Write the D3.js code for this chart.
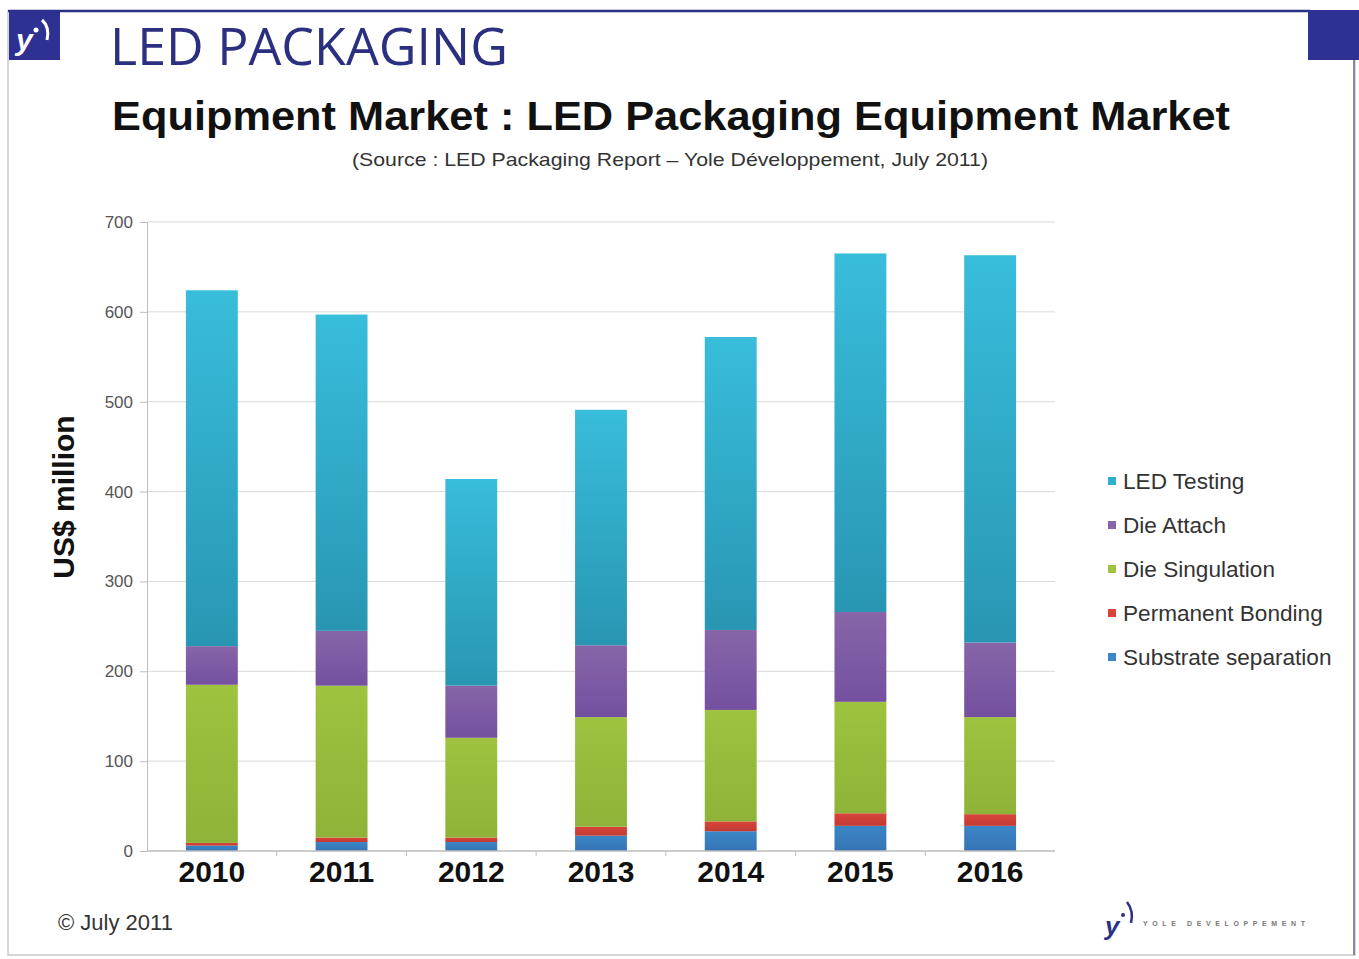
<!DOCTYPE html>
<html lang="en">
<head>
<meta charset="utf-8">
<title>LED Packaging Equipment Market</title>
<style>
  body { margin: 0; background: #fff; }
  svg { display: block; font-family: "Liberation Sans", Arial, sans-serif; }
  .grid line { stroke: #d9d9d9; }
</style>
</head>
<body>
<div id="chart"></div>
<script src="https://cdn.jsdelivr.net/npm/d3@7"></script>
<script>
var years = ["2010", "2011", "2012", "2013", "2014", "2015", "2016"];
// stacked from the bottom up
var seriesNames = ["Substrate separation", "Permanent Bonding", "Die Singulation", "Die Attach", "LED Testing"];
var substrate  = [6, 10, 10, 17, 22, 28, 28];
var bonding    = [3, 5, 5, 10, 11, 14, 13];
var singulation = [176, 169, 111, 122, 124, 124, 108];
var attach     = [43, 61, 58, 80, 89, 100, 83];
var testing    = [396, 352, 230, 262, 326, 399, 431];
var yTicks = [0, 100, 200, 300, 400, 500, 600, 700];

var colors = ["#3b86c6", "#d8453b", "#9dc33f", "#8765a8", "#30afcb"];
var dark   = ["#3574b4", "#c23a32", "#8fb338", "#7450a0", "#2896b3"];

var width = 1359, height = 959;
var svg = d3.select("#chart").append("svg")
    .attr("width", width).attr("height", height);

// slide frame
svg.append("rect").attr("x", 8).attr("y", 11).attr("width", 1347).attr("height", 944)
    .attr("fill", "none").attr("stroke", "#c8c8d0").attr("stroke-width", 1.5);
svg.append("line").attr("x1", 8).attr("x2", 1310).attr("y1", 11).attr("y2", 11)
    .attr("stroke", "#2b3185").attr("stroke-width", 2.5);
svg.append("rect").attr("x", 1308).attr("y", 10).attr("width", 51).attr("height", 50).attr("fill", "#2e3192");
svg.append("line").attr("x1", 1354).attr("x2", 1354).attr("y1", 60).attr("y2", 955)
    .attr("stroke", "#8a8aa0").attr("stroke-width", 2);

// top-left logo
var logo = svg.append("g");
logo.append("rect").attr("x", 9).attr("y", 11).attr("width", 51).attr("height", 49).attr("fill", "#2e3192");
logo.append("text").attr("x", 16).attr("y", 50).attr("fill", "#fff")
    .attr("font-size", 30).attr("font-style", "italic").attr("font-weight", "bold").text("y");
logo.append("circle").attr("cx", 36).attr("cy", 30).attr("r", 2.5).attr("fill", "#fff");
logo.append("path").attr("d", "M42,20 Q50,27 47,40").attr("fill", "none").attr("stroke", "#fff").attr("stroke-width", 3);

// titles
svg.append("text").attr("x", 110).attr("y", 65).attr("fill", "#2b2f80")
    .attr("font-family", "'Open Sans', sans-serif").attr("font-size", 52)
    .attr("textLength", 398).attr("lengthAdjust", "spacingAndGlyphs").text("LED PACKAGING");
svg.append("text").attr("x", 112).attr("y", 130).attr("fill", "#111")
    .attr("font-weight", "bold").attr("font-size", 41)
    .attr("textLength", 1118).attr("lengthAdjust", "spacingAndGlyphs")
    .text("Equipment Market : LED Packaging Equipment Market");
svg.append("text").attr("x", 670).attr("y", 166).attr("fill", "#333")
    .attr("font-size", 19).attr("text-anchor", "middle")
    .attr("textLength", 636).attr("lengthAdjust", "spacingAndGlyphs")
    .text("(Source : LED Packaging Report \u2013 Yole D\u00e9veloppement, July 2011)");

// chart
var plotLeft = 147, plotRight = 1055, plotTop = 222, plotBottom = 851;
var x = d3.scaleBand().domain(years).range([plotLeft, plotRight]).paddingInner(0.6).paddingOuter(0.3);
var y = d3.scaleLinear().domain([0, 700]).range([plotBottom, plotTop]);

svg.append("g").attr("class", "grid")
  .selectAll("line").data(yTicks.slice(1)).enter().append("line")
    .attr("x1", plotLeft).attr("x2", plotRight)
    .attr("y1", function(d) { return y(d); }).attr("y2", function(d) { return y(d); });

var yAxis = svg.append("g")
    .attr("transform", "translate(" + plotLeft + ",0)")
    .call(d3.axisLeft(y).tickValues(yTicks).tickSize(7).tickPadding(7));
yAxis.select(".domain").attr("stroke", "#bdbdbd");
yAxis.selectAll(".tick line").attr("stroke", "#bdbdbd");
yAxis.selectAll("text").attr("fill", "#555").attr("font-size", 17)
    .attr("font-family", "'Liberation Sans', Arial, sans-serif");

// gradients per series
var defs = svg.append("defs");
colors.forEach(function(c, i) {
  var g = defs.append("linearGradient").attr("id", "g" + i)
      .attr("x1", 0).attr("x2", 0).attr("y1", 0).attr("y2", 1);
  g.append("stop").attr("offset", "0%").attr("stop-color", i === 4 ? "#38bddb" : c);
  g.append("stop").attr("offset", "100%").attr("stop-color", dark[i]);
});

var rows = years.map(function(yr, i) {
  return { year: yr, s0: substrate[i], s1: bonding[i], s2: singulation[i], s3: attach[i], s4: testing[i] };
});
var stack = d3.stack().keys(["s0", "s1", "s2", "s3", "s4"]);
var layers = stack(rows);

svg.append("g").selectAll("g").data(layers).enter().append("g")
    .attr("fill", function(d, i) { return "url(#g" + i + ")"; })
  .selectAll("rect").data(function(d) { return d; }).enter().append("rect")
    .attr("x", function(d) { return x(d.data.year); })
    .attr("width", x.bandwidth())
    .attr("y", function(d) { return y(d[1]); })
    .attr("height", function(d) { return y(d[0]) - y(d[1]); });

// x axis
var xAxis = svg.append("g").attr("transform", "translate(0," + plotBottom + ")");
xAxis.append("line").attr("x1", plotLeft).attr("x2", plotRight).attr("stroke", "#bdbdbd").attr("stroke-width", 1.5);
xAxis.selectAll(".sep").data(years.slice(1)).enter().append("line")
    .attr("x1", function(d) { return x(d) - x.step() * x.paddingInner() / 2; })
    .attr("x2", function(d) { return x(d) - x.step() * x.paddingInner() / 2; })
    .attr("y1", 0).attr("y2", 5).attr("stroke", "#bdbdbd");
xAxis.selectAll("text").data(years).enter().append("text")
    .attr("x", function(d) { return x(d) + x.bandwidth() / 2; })
    .attr("y", 31).attr("text-anchor", "middle")
    .attr("font-weight", "bold").attr("font-size", 30).attr("fill", "#111")
    .text(function(d) { return d; });

// y label
svg.append("text").attr("transform", "translate(74,497) rotate(-90)")
    .attr("text-anchor", "middle").attr("font-weight", "bold").attr("font-size", 30).attr("fill", "#111")
    .text("US$ million");

// legend, top to bottom
var legendItems = seriesNames.map(function(n, i) { return { name: n, i: i }; }).reverse();
var lg = svg.append("g").selectAll("g").data(legendItems).enter().append("g")
    .attr("transform", function(d, k) { return "translate(1108," + (481 + k * 44) + ")"; });
lg.append("rect").attr("x", 0).attr("y", -4).attr("width", 8).attr("height", 8)
    .attr("fill", function(d) { return colors[d.i]; });
lg.append("text").attr("x", 15).attr("y", 8).attr("font-size", 22.6).attr("fill", "#333")
    .text(function(d) { return d.name; });

// footer
svg.append("text").attr("x", 58).attr("y", 930).attr("font-size", 22).attr("fill", "#333")
    .text("\u00a9 July 2011");
var bl = svg.append("g").attr("transform", "translate(1105,935)");
bl.append("text").attr("x", 0).attr("y", 0).attr("font-size", 26).attr("font-style", "italic")
    .attr("font-weight", "bold").attr("fill", "#2b3185").text("y");
bl.append("circle").attr("cx", 18).attr("cy", -20).attr("r", 2).attr("fill", "#2b3185");
bl.append("path").attr("d", "M22,-33 Q29,-24 26,-12").attr("fill", "none").attr("stroke", "#2b3185").attr("stroke-width", 2.5);
bl.append("text").attr("x", 38).attr("y", -9).attr("font-size", 7).attr("font-weight", "bold")
    .attr("fill", "#777").attr("textLength", 162).attr("lengthAdjust", "spacing").text("YOLE DEVELOPPEMENT");
</script>
</body>
</html>
